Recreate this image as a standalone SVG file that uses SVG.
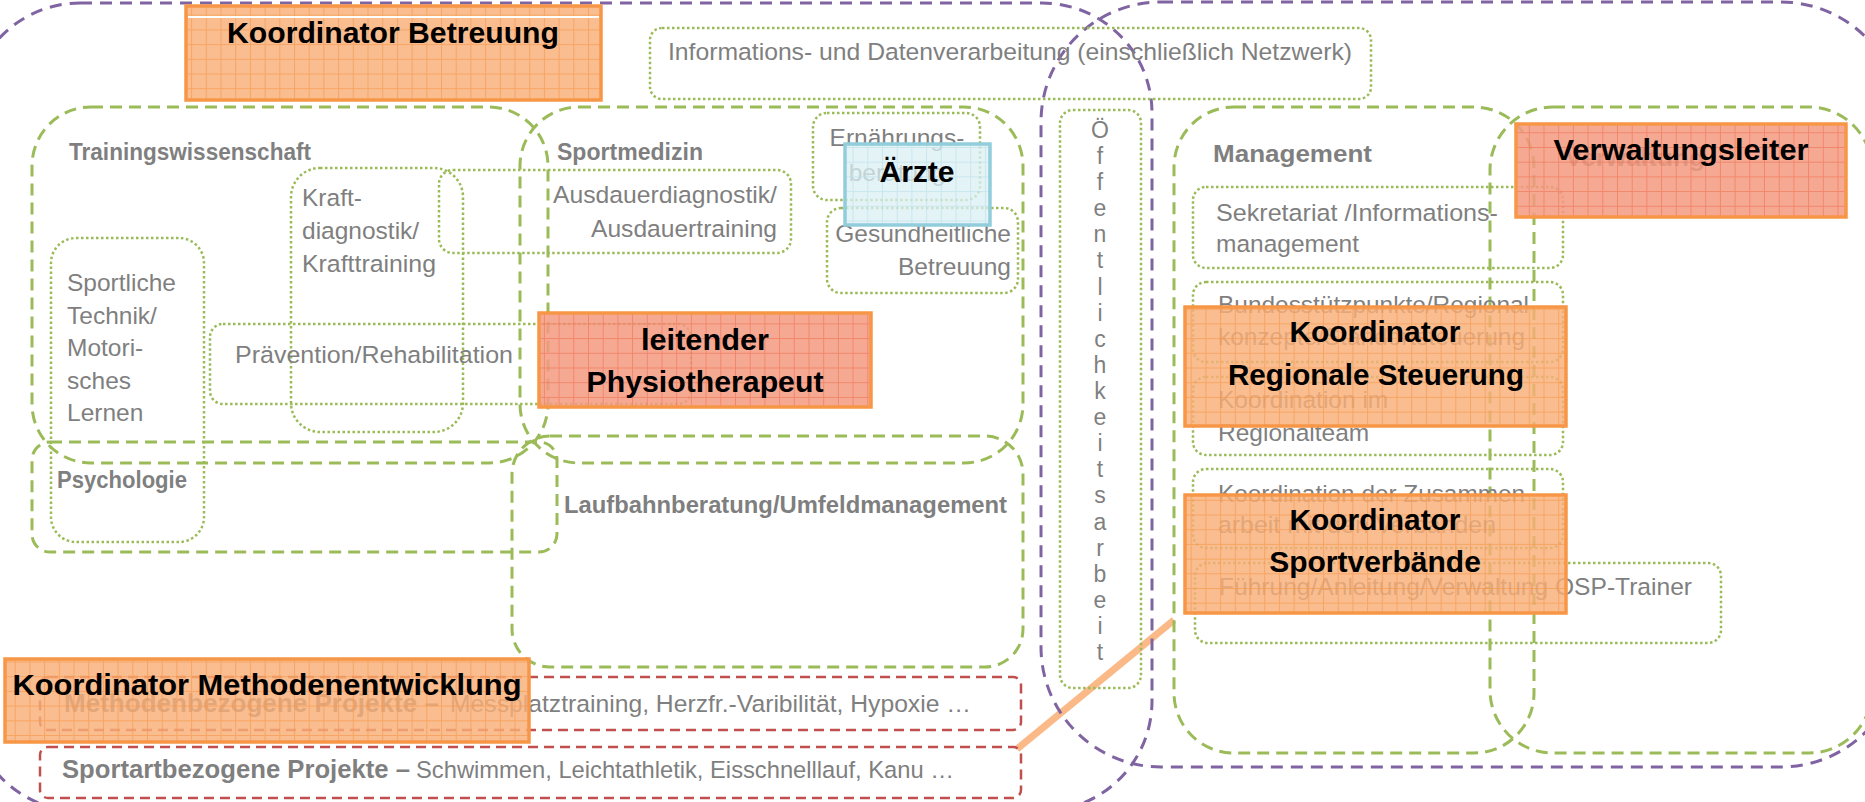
<svg xmlns="http://www.w3.org/2000/svg" width="1865" height="802" viewBox="0 0 1865 802">
<defs>
<style>
.pd{fill:none;stroke:#8064A2;stroke-width:3;stroke-dasharray:12 8}
.gd{fill:none;stroke:#9BBB59;stroke-width:3;stroke-dasharray:12 7}
.dt{fill:none;stroke:#9BBB59;stroke-width:2.5;stroke-dasharray:2.5 2.5}
.rd{fill:none;stroke:#C0504D;stroke-width:2.5;stroke-dasharray:10 6}
.t{font-family:"Liberation Sans",Arial,sans-serif;font-size:24.5px;fill:#7F7F7F}
.tb{font-family:"Liberation Sans",Arial,sans-serif;font-size:24px;font-weight:bold;fill:#7F7F7F}
.k{font-family:"Liberation Sans",Arial,sans-serif;font-size:30px;font-weight:bold;fill:#000}
.bo{fill:url(#gO);stroke:#F79646;stroke-width:3.5}
.bs{fill:url(#gS);stroke:#F79646;stroke-width:3.5}
.bb{fill:url(#gB);stroke:#92CDDC;stroke-width:3.5}
</style>
<pattern id="gO" width="14.7" height="14.7" patternUnits="userSpaceOnUse">
<rect width="14.7" height="14.7" fill="#F8AE78" fill-opacity="0.82"/>
<path d="M0 0.5H14.7M0.5 0V14.7" stroke="#F79646" stroke-opacity="0.6" stroke-width="1"/>
</pattern>
<pattern id="gS" width="14.7" height="14.7" patternUnits="userSpaceOnUse">
<rect width="14.7" height="14.7" fill="#F39A80" fill-opacity="0.85"/>
<path d="M0 0.5H14.7M0.5 0V14.7" stroke="#F0694A" stroke-opacity="0.55" stroke-width="1"/>
</pattern>
<pattern id="gB" width="14.7" height="14.7" patternUnits="userSpaceOnUse">
<rect width="14.7" height="14.7" fill="#DAEEF3" fill-opacity="0.75"/>
<path d="M0 0.5H14.7M0.5 0V14.7" stroke="#B6DDE8" stroke-opacity="0.6" stroke-width="1"/>
</pattern>
</defs>
<rect width="1865" height="802" fill="#fff"/>

<g id="connectors">
<line x1="1174" y1="620" x2="1017" y2="749" stroke="#FAB987" stroke-width="7"/>
</g>

<g id="area-left"><rect class="pd" x="-30" y="3" width="1182" height="808" rx="110"/></g>
<g id="area-right"><rect class="pd" x="1041" y="2" width="860" height="765" rx="120"/></g>

<g id="trainingswissenschaft">
<rect class="gd" x="32" y="107" width="516" height="356" rx="59"/>
<text class="tb" x="69" y="160" textLength="242" lengthAdjust="spacingAndGlyphs">Trainingswissenschaft</text>
</g>
<g id="sportmedizin">
<rect class="gd" x="520" y="107" width="503" height="356" rx="59"/>
<text class="tb" x="557" y="160" textLength="146" lengthAdjust="spacingAndGlyphs">Sportmedizin</text>
</g>
<g id="psychologie">
<rect class="gd" x="32" y="442" width="525" height="110" rx="18"/>
<text class="tb" x="57" y="488" textLength="130" lengthAdjust="spacingAndGlyphs">Psychologie</text>
</g>
<g id="laufbahn">
<rect class="gd" x="512" y="436" width="511" height="231" rx="38"/>
<text class="tb" x="564" y="513" textLength="443" lengthAdjust="spacingAndGlyphs">Laufbahnberatung/Umfeldmanagement</text>
</g>
<g id="management">
<rect class="gd" x="1174" y="107" width="360" height="646" rx="60"/>
<text class="tb" x="1213" y="162" textLength="159" lengthAdjust="spacingAndGlyphs">Management</text>
</g>
<g id="verwaltung">
<rect class="gd" x="1490" y="107" width="382" height="646" rx="63"/>
<text class="tb" x="1565" y="166" textLength="140" lengthAdjust="spacingAndGlyphs">Verwaltung</text>
</g>

<g id="informationen">
<rect class="dt" x="650" y="28" width="721" height="71" rx="12"/>
<text class="t" x="668" y="60" textLength="684" lengthAdjust="spacingAndGlyphs">Informations- und Datenverarbeitung (einschließlich Netzwerk)</text>
</g>
<g id="kraft">
<rect class="dt" x="291" y="168" width="172" height="264" rx="29"/>
<text class="t" x="302" y="206">Kraft-</text>
<text class="t" x="302" y="239">diagnostik/</text>
<text class="t" x="302" y="272" textLength="134" lengthAdjust="spacingAndGlyphs">Krafttraining</text>
</g>
<g id="ausdauer">
<rect class="dt" x="439" y="170" width="352" height="83" rx="14"/>
<text class="t" x="553" y="203" textLength="224" lengthAdjust="spacingAndGlyphs">Ausdauerdiagnostik/</text>
<text class="t" x="591" y="237" textLength="186" lengthAdjust="spacingAndGlyphs">Ausdauertraining</text>
</g>
<g id="ernaehrung">
<rect class="dt" x="813" y="113" width="167" height="87" rx="14"/>
<text class="t" x="897" y="146" text-anchor="middle">Ernährungs-</text>
<text class="t" x="897" y="181" text-anchor="middle">beratung</text>
</g>
<g id="gesundheit">
<rect class="dt" x="827" y="208" width="191" height="85" rx="14"/>
<text class="t" x="1011" y="242" text-anchor="end">Gesundheitliche</text>
<text class="t" x="1011" y="275" text-anchor="end">Betreuung</text>
</g>
<g id="technik">
<rect class="dt" x="51" y="238" width="153" height="304" rx="25"/>
<text class="t" x="67" y="291">Sportliche</text>
<text class="t" x="67" y="324">Technik/</text>
<text class="t" x="67" y="356">Motori-</text>
<text class="t" x="67" y="389">sches</text>
<text class="t" x="67" y="421">Lernen</text>
</g>
<g id="praevention">
<rect class="dt" x="210" y="324" width="481" height="80" rx="13"/>
<text class="t" x="235" y="363" textLength="278" lengthAdjust="spacingAndGlyphs">Prävention/Rehabilitation</text>
</g>
<g id="oeffentlichkeit">
<rect class="dt" x="1060" y="110" width="81" height="578" rx="13"/>
<text class="t" text-anchor="middle" style="font-size:23px"><tspan x="1100" y="138">Ö</tspan><tspan x="1100" y="164">f</tspan><tspan x="1100" y="190">f</tspan><tspan x="1100" y="216">e</tspan><tspan x="1100" y="242">n</tspan><tspan x="1100" y="268">t</tspan><tspan x="1100" y="295">l</tspan><tspan x="1100" y="321">i</tspan><tspan x="1100" y="347">c</tspan><tspan x="1100" y="373">h</tspan><tspan x="1100" y="399">k</tspan><tspan x="1100" y="425">e</tspan><tspan x="1100" y="451">i</tspan><tspan x="1100" y="477">t</tspan><tspan x="1100" y="503">s</tspan><tspan x="1100" y="530">a</tspan><tspan x="1100" y="556">r</tspan><tspan x="1100" y="582">b</tspan><tspan x="1100" y="608">e</tspan><tspan x="1100" y="634">i</tspan><tspan x="1100" y="660">t</tspan></text>
</g>
<g id="sekretariat">
<rect class="dt" x="1193" y="187" width="370" height="81" rx="13"/>
<text class="t" x="1216" y="221" textLength="282" lengthAdjust="spacingAndGlyphs">Sekretariat /Informations-</text>
<text class="t" x="1216" y="252">management</text>
</g>
<g id="bundesstuetzpunkte">
<rect class="dt" x="1193" y="282" width="370" height="80" rx="13"/>
<text class="t" x="1218" y="313" textLength="311" lengthAdjust="spacingAndGlyphs">Bundesstützpunkte/Regional</text>
<text class="t" x="1218" y="345" textLength="307" lengthAdjust="spacingAndGlyphs">konzepte/Standortsteuerung</text>
</g>
<g id="regionalteam">
<rect class="dt" x="1193" y="377" width="370" height="78" rx="13"/>
<text class="t" x="1218" y="408">Koordination im</text>
<text class="t" x="1218" y="441">Regionalteam</text>
</g>
<g id="zusammenarbeit">
<rect class="dt" x="1193" y="469" width="370" height="79" rx="13"/>
<text class="t" x="1218" y="502" textLength="307" lengthAdjust="spacingAndGlyphs">Koordination der Zusammen</text>
<text class="t" x="1218" y="533" textLength="278" lengthAdjust="spacingAndGlyphs">arbeit mit den Verbänden</text>
</g>
<g id="fuehrung">
<rect class="dt" x="1195" y="563" width="526" height="80" rx="13"/>
<text class="t" x="1219" y="595" textLength="473" lengthAdjust="spacingAndGlyphs">Führung/Anleitung/Verwaltung OSP-Trainer</text>
</g>
<g id="methodenprojekte">
<rect class="rd" x="40" y="677" width="981" height="53" rx="8"/>
<text class="tb" x="64" y="712" style="font-size:26px" textLength="375" lengthAdjust="spacingAndGlyphs">Methodenbezogene Projekte –</text>
<text class="t" x="450" y="712" textLength="521" lengthAdjust="spacingAndGlyphs">Messplatztraining, Herzfr.-Varibilität, Hypoxie …</text>
</g>
<g id="sportartprojekte">
<rect class="rd" x="40" y="747" width="981" height="51" rx="8"/>
<text class="tb" x="62" y="778" style="font-size:26px" textLength="348" lengthAdjust="spacingAndGlyphs">Sportartbezogene Projekte –</text>
<text class="t" x="416" y="778" textLength="538" lengthAdjust="spacingAndGlyphs">Schwimmen, Leichtathletik, Eisschnelllauf,  Kanu …</text>
</g>

<g id="koordinator-betreuung">
<rect class="bo" x="186" y="6" width="415" height="94"/>
<line x1="188" y1="17" x2="599" y2="17" stroke="#fff" stroke-width="2"/>
<text class="k" x="393" y="43" text-anchor="middle" textLength="332" lengthAdjust="spacingAndGlyphs">Koordinator Betreuung</text>
</g>
<g id="aerzte">
<rect class="bb" x="845" y="144" width="145" height="81"/>
<text class="k" x="917" y="182" text-anchor="middle">Ärzte</text>
</g>
<g id="physiotherapeut">
<rect class="bs" x="539" y="313" width="332" height="94"/>
<text class="k" x="705" y="350" text-anchor="middle" textLength="128" lengthAdjust="spacingAndGlyphs">leitender</text>
<text class="k" x="705" y="392" text-anchor="middle" textLength="237" lengthAdjust="spacingAndGlyphs">Physiotherapeut</text>
</g>
<g id="verwaltungsleiter">
<rect class="bs" x="1516" y="124" width="330" height="93"/>
<text class="k" x="1681" y="160" text-anchor="middle" textLength="255" lengthAdjust="spacingAndGlyphs">Verwaltungsleiter</text>
</g>
<g id="koordinator-regional">
<rect class="bo" x="1185" y="307" width="381" height="119"/>
<text class="k" x="1375" y="342" text-anchor="middle" textLength="171" lengthAdjust="spacingAndGlyphs">Koordinator</text>
<text class="k" x="1376" y="385" text-anchor="middle" textLength="296" lengthAdjust="spacingAndGlyphs">Regionale Steuerung</text>
</g>
<g id="koordinator-sportverbaende">
<rect class="bo" x="1185" y="495" width="381" height="118"/>
<text class="k" x="1375" y="530" text-anchor="middle" textLength="171" lengthAdjust="spacingAndGlyphs">Koordinator</text>
<text class="k" x="1375" y="572" text-anchor="middle">Sportverbände</text>
</g>
<g id="koordinator-methoden">
<rect class="bo" x="5" y="659" width="524" height="83"/>
<text class="k" x="267" y="695" text-anchor="middle" textLength="509" lengthAdjust="spacingAndGlyphs">Koordinator Methodenentwicklung</text>
</g>
</svg>
